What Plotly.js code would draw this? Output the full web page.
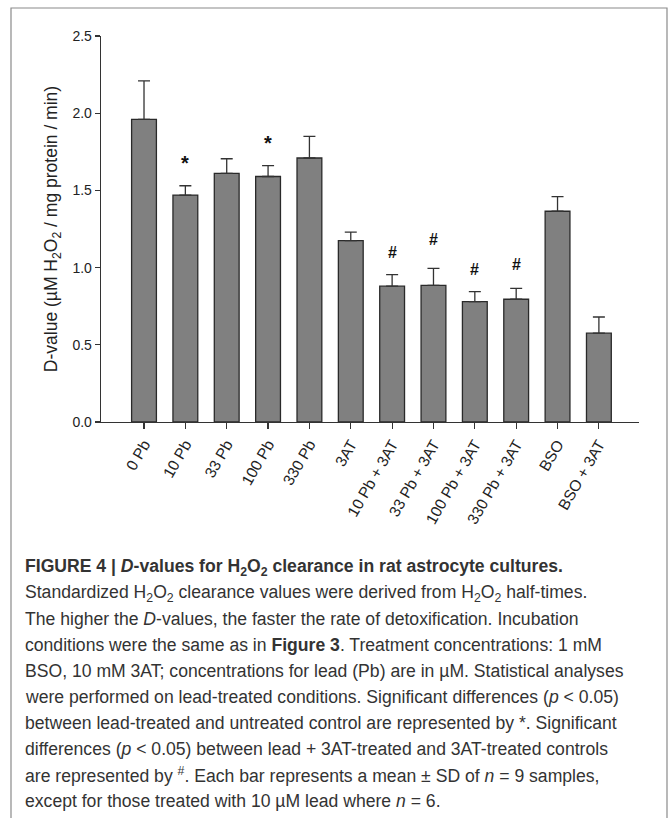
<!DOCTYPE html>
<html>
<head>
<meta charset="utf-8">
<script src="https://cdn.plot.ly/plotly-3.0.1.min.js"></script>
<style>
html,body{margin:0;padding:0;background:#fff;}
#chart{width:672px;height:818px;}
</style>
</head>
<body>
<div id="chart"></div>
<script>
const categories = ['0 Pb','10 Pb','33 Pb','100 Pb','330 Pb','3AT','10 Pb + 3AT','33 Pb + 3AT','100 Pb + 3AT','330 Pb + 3AT','BSO','BSO + 3AT'];
const dValues = [1.96, 1.47, 1.61, 1.59, 1.71, 1.175, 0.88, 0.885, 0.78, 0.795, 1.365, 0.575];
const sdValues = [0.25, 0.06, 0.095, 0.07, 0.14, 0.055, 0.075, 0.11, 0.065, 0.07, 0.095, 0.105];
const sigMarks = ['', '*', '', '*', '', '', '#', '#', '#', '#', '', ''];
const sigHeights = [null, 1.68, null, 1.81, null, null, 1.10, 1.18, 0.985, 1.02, null, null];
const yTicks = [0, 0.5, 1.0, 1.5, 2.0, 2.5];

const captionLines = [
  '<b>FIGURE 4 | <i>D</i>-values for H<sub>2</sub>O<sub>2</sub> clearance in rat astrocyte cultures.</b>',
  'Standardized H<sub>2</sub>O<sub>2</sub> clearance values were derived from H<sub>2</sub>O<sub>2</sub> half-times.',
  'The higher the <i>D</i>-values, the faster the rate of detoxification. Incubation',
  'conditions were the same as in <b>Figure 3</b>. Treatment concentrations: 1 mM',
  'BSO, 10 mM 3AT; concentrations for lead (Pb) are in µM. Statistical analyses',
  'were performed on lead-treated conditions. Significant differences (<i>p</i> &lt; 0.05)',
  'between lead-treated and untreated control are represented by *. Significant',
  'differences (<i>p</i> &lt; 0.05) between lead + 3AT-treated and 3AT-treated controls',
  'are represented by <sup>#</sup>. Each bar represents a mean ± SD of <i>n</i> = 9 samples,',
  'except for those treated with 10 µM lead where <i>n</i> = 6.'
];

const W = 672, H = 818;
const M = {l: 101, r: 33, t: 36, b: 396};
const pw = W - M.l - M.r, ph = H - M.t - M.b;
const px2x = p => (p - M.l) / pw;
const py2y = p => (H - M.b - p) / ph;

const idx = categories.map((c, i) => i);

const trace = {
  type: 'bar',
  x: idx,
  y: dValues,
  width: 0.6,
  marker: {color: '#808080', line: {color: '#2a2a2a', width: 1.3}},
  error_y: {type: 'data', symmetric: false, array: sdValues, arrayminus: sdValues.map(() => 0),
            color: '#333333', thickness: 1.3, width: 6},
  hoverinfo: 'none'
};

const annotations = [];
sigMarks.forEach((m, i) => {
  if (!m) return;
  annotations.push({
    x: i, y: sigHeights[i], xref: 'x', yref: 'y', text: '<b>' + m + '</b>',
    showarrow: false, xanchor: 'center', yanchor: 'middle',
    font: {family: 'Liberation Sans, Arial, sans-serif', size: m === '*' ? 20 : 16, color: '#111'}
  });
});

const capTop = 567, capStep = 26.0;
captionLines.forEach((t, i) => {
  annotations.push({
    x: px2x(23), y: py2y(capTop + i * capStep), xref: 'paper', yref: 'paper',
    text: t, showarrow: false, xanchor: 'left', yanchor: 'middle', align: 'left',
    font: {family: 'Liberation Sans, Arial, sans-serif', size: 17.6, color: '#333'}
  });
});

const layout = {
  width: W, height: H,
  margin: M,
  paper_bgcolor: '#fff', plot_bgcolor: '#fff',
  showlegend: false,
  bargap: 0.4,
  xaxis: {
    range: [-1.04, 11.97], tickmode: 'array', tickvals: idx, ticktext: categories,
    tickangle: -60, ticks: 'outside', ticklen: 6, tickwidth: 1.2, tickcolor: '#333',
    showline: true, linecolor: '#333', linewidth: 1.3, showgrid: false, zeroline: false,
    tickfont: {family: 'Liberation Sans, Arial, sans-serif', size: 15.5, color: '#222'},
    fixedrange: true
  },
  yaxis: {
    range: [0, 2.5], tickmode: 'array', tickvals: yTicks, ticktext: yTicks.map(v => v.toFixed(1)),
    ticks: 'outside', ticklen: 5, tickwidth: 1.2, tickcolor: '#333',
    showline: true, linecolor: '#333', linewidth: 1.3, showgrid: false, zeroline: false,
    tickfont: {family: 'Liberation Sans, Arial, sans-serif', size: 14, color: '#222'},
    title: {text: 'D-value (µM H<sub>2</sub>O<sub>2</sub> / mg protein / min)', standoff: 10,
            font: {family: 'Liberation Sans, Arial, sans-serif', size: 17.5, color: '#222'}},
    fixedrange: true
  },
  shapes: [{
    type: 'rect', xref: 'paper', yref: 'paper',
    x0: px2x(11), x1: px2x(667), y0: py2y(830), y1: py2y(8),
    line: {color: '#8a8a8a', width: 1.2}, fillcolor: 'rgba(0,0,0,0)', layer: 'below'
  }],
  annotations: annotations
};

Plotly.newPlot('chart', [trace], layout, {displayModeBar: false, staticPlot: true});
</script>
</body>
</html>
